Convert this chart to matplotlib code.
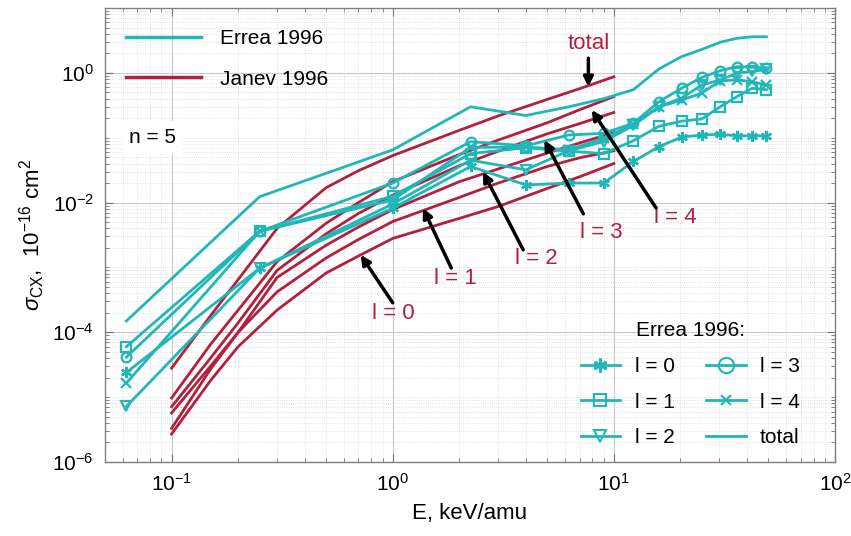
import numpy as np
import matplotlib
matplotlib.use("Agg")
import matplotlib.pyplot as plt
from matplotlib.lines import Line2D
from matplotlib.ticker import FixedLocator, NullFormatter, LogFormatterSciNotation

plt.rcParams['font.family'] = ['Liberation Sans', 'DejaVu Sans']
plt.rcParams['mathtext.fontset'] = 'custom'
plt.rcParams['mathtext.rm'] = 'Liberation Sans'
plt.rcParams['mathtext.it'] = 'Liberation Sans:italic'
plt.rcParams['mathtext.bf'] = 'Liberation Sans:bold'

CYAN = '#21B6B8'
RED = '#B3203E'

# ---- Errea 1996 (n = 5) ----
E_errea = [0.0625, 0.25, 1.0, 2.25, 4.0, 6.25, 9.0, 12.25, 16.0, 20.25, 25.0, 30.25, 36.0, 42.25, 49.0]
errea_l0 = [2.4e-5, 9.7e-4, 8.2e-3, 0.036, 0.0187, 0.020, 0.020, 0.043, 0.073, 0.102, 0.110, 0.113, 0.107, 0.107, 0.107]
errea_l1 = [6.0e-5, 3.6e-3, 0.0125, 0.057, 0.070, 0.062, 0.057, 0.090, 0.150, 0.180, 0.195, 0.30, 0.43, 0.58, 0.55]
errea_l2 = [7.2e-6, 9.7e-4, 0.0095, 0.045, 0.032, 0.063, 0.087, 0.155, 0.30, 0.41, 0.65, 0.78, 0.99, 1.05, 1.13]
errea_l3 = [4.15e-5, 3.6e-3, 0.020, 0.087, 0.075, 0.11, 0.117, 0.167, 0.36, 0.58, 0.85, 1.08, 1.25, 1.22, 1.20]
errea_l4 = [1.65e-5, 3.6e-3, 0.011, 0.071, 0.072, 0.065, 0.098, 0.16, 0.30, 0.38, 0.49, 0.75, 0.78, 0.73, 0.65]
errea_tot = [1.5e-4, 0.0123, 0.065, 0.30, 0.22, 0.30, 0.40, 0.55, 1.15, 1.78, 2.3, 2.96, 3.41, 3.6, 3.6]

# ---- Janev 1996 ----
E_janev = [0.1, 0.15, 0.2, 0.3, 0.5, 0.7, 1.0, 2.0, 3.0, 5.0, 7.0, 10.0]
janev_tot = [2.8e-5, 1.8e-4, 6.5e-4, 4.0e-3, 0.017, 0.031, 0.053, 0.13, 0.217, 0.39, 0.57, 0.87]
janev_l4 = [9.7e-6, 6.5e-5, 2.2e-4, 1.23e-3, 4.8e-3, 0.010, 0.021, 0.055, 0.092, 0.17, 0.27, 0.43]
janev_l3 = [7.1e-6, 4.0e-5, 1.4e-4, 9.0e-4, 3.3e-3, 6.8e-3, 0.013, 0.037, 0.062, 0.115, 0.165, 0.245]
janev_l2 = [5.7e-6, 3.0e-5, 1.0e-4, 7.0e-4, 2.2e-3, 4.2e-3, 0.0078, 0.021, 0.033, 0.058, 0.083, 0.12]
janev_l1 = [3.3e-6, 2.7e-5, 1.0e-4, 4.2e-4, 1.4e-3, 2.7e-3, 5.1e-3, 0.012, 0.020, 0.036, 0.049, 0.063]
janev_l0 = [2.7e-6, 1.8e-5, 6.0e-5, 2.2e-4, 8.2e-4, 1.5e-3, 2.8e-3, 5.7e-3, 8.7e-3, 0.0165, 0.025, 0.040]

fig = plt.figure(figsize=(8.51, 5.36), dpi=100)
ax = fig.add_axes([105/851, 74/536, 730/851, 454/536])
ax.set_xscale('log')
ax.set_yscale('log')
ax.set_xlim(0.05, 100)
ax.set_ylim(1e-6, 10)

lw = 2.0
for y in [janev_tot, janev_l4, janev_l3, janev_l2, janev_l1, janev_l0]:
    ax.plot(E_janev, y, color=RED, lw=lw, zorder=3, solid_joinstyle='round')

ax.plot(E_errea, errea_tot, color=CYAN, lw=lw, zorder=4)
ast = (6, 2, 0)
series = [
    (errea_l0, ast, 'l = 0', 8),
    (errea_l1, 's', 'l = 1', 7),
    (errea_l2, 'v', 'l = 2', 7),
    (errea_l3, 'o', 'l = 3', 7),
    (errea_l4, 'x', 'l = 4', 7),
]
for y, m, lab, ms in series:
    ax.plot(E_errea, y, color=CYAN, lw=lw, marker=m, ms=ms, mfc='none',
            mec=CYAN, mew=1.6, zorder=4)

# grid & ticks
ax.xaxis.set_major_locator(FixedLocator([0.1, 1, 10, 100]))
ax.xaxis.set_major_formatter(LogFormatterSciNotation())
xminor = [k * 10.0**p for p in range(-2, 3) for k in range(2, 10)]
ax.xaxis.set_minor_locator(FixedLocator(xminor))
ax.xaxis.set_minor_formatter(NullFormatter())
ax.yaxis.set_major_locator(FixedLocator([1e-6, 1e-4, 1e-2, 1]))
ax.yaxis.set_major_formatter(LogFormatterSciNotation())
yminor = [k * 10.0**p for p in range(-6, 2) for k in range(1, 10)
          if not (k == 1 and p in (-6, -4, -2, 0))]
ax.yaxis.set_minor_locator(FixedLocator(yminor))
ax.yaxis.set_minor_formatter(NullFormatter())
ax.grid(True, which='major', color='#c8c8c8', lw=0.8, ls='-')
ax.grid(True, which='minor', color='#d8d8d8', lw=0.6, ls=':')
ax.set_axisbelow(True)
ax.tick_params(which='both', direction='in', top=True, right=True, color='#707070')
ax.tick_params(which='major', length=6, labelsize=15, pad=8)
ax.tick_params(which='minor', length=3)
for s in ax.spines.values():
    s.set_color('#808080')
    s.set_linewidth(1.0)

ax.set_xlabel('E, keV/amu', fontsize=16, labelpad=6)
ax.set_ylabel(r'$\sigma_{\mathrm{CX}}$,  10$^{-16}$ cm$^{2}$', fontsize=16, labelpad=4)

# Legend 1
h1 = [Line2D([], [], color=CYAN, lw=2.5), Line2D([], [], color=RED, lw=2.5)]
leg1 = ax.legend(h1, ['Errea 1996', 'Janev 1996'], loc='upper left', frameon=False,
                 fontsize=15, handlelength=3.6, handletextpad=0.9, labelspacing=1.05,
                 bbox_to_anchor=(0.0, 1.0), borderaxespad=0.6)
ax.add_artist(leg1)

ax.text(0.064, 0.10, 'n = 5', fontsize=15, ha='left', va='center', zorder=6,
        bbox=dict(facecolor='white', edgecolor='none', pad=5))

# Legend 2
h2 = [Line2D([], [], color=CYAN, lw=2, marker=ast, ms=10, mew=2),
      Line2D([], [], color=CYAN, lw=2, marker='s', ms=9, mfc='none', mew=1.5),
      Line2D([], [], color=CYAN, lw=2, marker='v', ms=9, mfc='none', mew=1.5),
      Line2D([], [], color=CYAN, lw=2, marker='o', ms=11, mfc='none', mew=1.5),
      Line2D([], [], color=CYAN, lw=2, marker='x', ms=7, mew=1.5),
      Line2D([], [], color=CYAN, lw=2)]
leg2 = ax.legend(h2, ['l = 0', 'l = 1', 'l = 2', 'l = 3', 'l = 4', 'total'],
                 loc='lower right', ncol=2, frameon=False, fontsize=15,
                 title='Errea 1996:', title_fontsize=15, handlelength=1.9,
                 handletextpad=0.7, columnspacing=1.5, labelspacing=0.8,
                 borderaxespad=0.3, bbox_to_anchor=(0.972, 0.0))

# Annotations
ann = [
    ('total', (7.67, 2.86), (7.67, 1.68), (7.67, 0.61)),
    ('l = 0', (1.01, 1.95e-4), (1.0, 2.85e-4), (0.716, 1.56e-3)),
    ('l = 1', (1.93, 6.7e-4), (1.84, 9.8e-4), (1.37, 8.2e-3)),
    ('l = 2', (4.47, 1.37e-3), (3.89, 1.87e-3), (2.56, 0.0297)),
    ('l = 3', (8.82, 3.4e-3), (7.28, 6.7e-3), (4.85, 0.092)),
    ('l = 4', (18.9, 5.8e-3), (15.5, 8.3e-3), (7.94, 0.268)),
]
for lab, tpos, tail, tip in ann:
    ax.text(tpos[0], tpos[1], lab, color=RED, fontsize=16, ha='center', va='center', zorder=7)
    ax.annotate('', xy=tip, xytext=tail,
                arrowprops=dict(arrowstyle='-|>', color='black', lw=2.5,
                                mutation_scale=14, shrinkA=0, shrinkB=0), zorder=7)

fig.savefig('out.png', dpi=100, facecolor='white')
